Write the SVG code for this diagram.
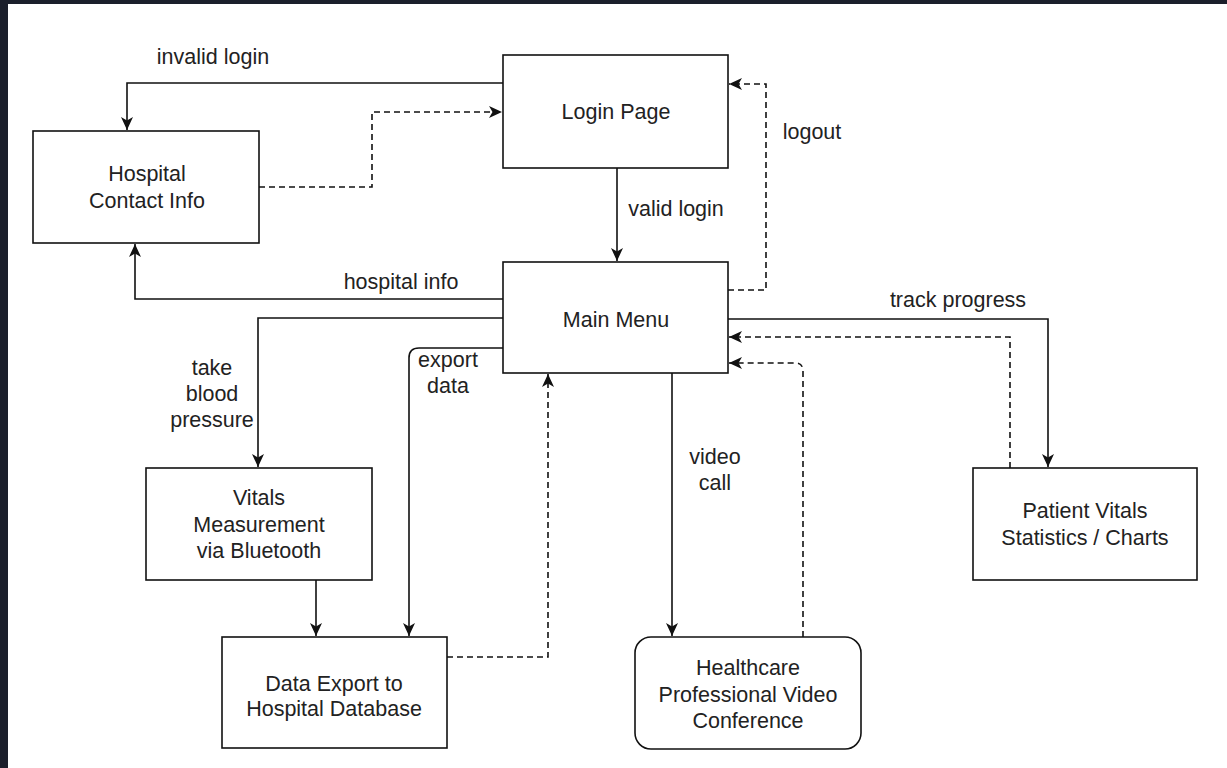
<svg xmlns="http://www.w3.org/2000/svg" width="1227" height="768" viewBox="0 0 1227 768">
<style>
.box{fill:#fff;stroke:#111;stroke-width:1.6}
.t{font-family:"Liberation Sans",Arial,sans-serif;font-size:21.5px;fill:#222;text-anchor:middle}
.c{fill:none;stroke:#111;stroke-width:1.6}
.d{fill:none;stroke:#111;stroke-width:1.6;stroke-dasharray:6 4}
</style>
<defs>
<marker id="ah" markerUnits="userSpaceOnUse" markerWidth="14" markerHeight="12" viewBox="0 0 14 12" refX="13" refY="6" orient="auto">
<path d="M0,0 L13,6 L0,12 L3.5,6 z" fill="#111"/>
</marker>
</defs>
<rect x="0" y="0" width="1227" height="768" fill="#1b1f2b"/>
<rect x="8" y="4" width="1219" height="764" fill="#fff"/>
<g id="connectors">
<path class="c" d="M503,83 H127 V130" marker-end="url(#ah)"/>
<path class="d" d="M259,187 H372 V112 H502" marker-end="url(#ah)"/>
<path class="c" d="M617,168 V261" marker-end="url(#ah)"/>
<path class="d" d="M728,290 H766 V84 H729" marker-end="url(#ah)"/>
<path class="c" d="M503,299 H135 V244" marker-end="url(#ah)"/>
<path class="c" d="M503,318 H258 V467" marker-end="url(#ah)"/>
<path class="c" d="M316,580 V636" marker-end="url(#ah)"/>
<path class="c" d="M503,348 H419 Q409,348 409,358 V636" marker-end="url(#ah)"/>
<path class="d" d="M447,657 H548 V374" marker-end="url(#ah)"/>
<path class="c" d="M672,373 V636" marker-end="url(#ah)"/>
<path class="d" d="M803,637 V371 Q803,363 795,363 H729" marker-end="url(#ah)"/>
<path class="c" d="M728,319 H1048 V467" marker-end="url(#ah)"/>
<path class="d" d="M1010,468 V337 H729" marker-end="url(#ah)"/>
<text class="t" x="213" y="64">invalid login</text>
<text class="t" x="676" y="216">valid login</text>
<text class="t" x="812" y="139">logout</text>
<text class="t" x="401" y="289">hospital info</text>
<text class="t" x="958" y="307">track progress</text>
<text class="t" x="212" y="375">take</text>
<text class="t" x="212" y="401">blood</text>
<text class="t" x="212" y="427">pressure</text>
<text class="t" x="448" y="367">export</text>
<text class="t" x="448" y="393">data</text>
<text class="t" x="715" y="464">video</text>
<text class="t" x="715" y="490">call</text>
</g>
<g id="login">
<rect class="box" x="503" y="55" width="225" height="113"/>
<text class="t" x="616" y="119">Login Page</text>
</g>
<g id="hospital">
<rect class="box" x="33" y="131" width="226" height="112"/>
<text class="t" x="147" y="181">Hospital</text>
<text class="t" x="147" y="208">Contact Info</text>
</g>
<g id="mainmenu">
<rect class="box" x="503" y="262" width="225" height="111"/>
<text class="t" x="616" y="327">Main Menu</text>
</g>
<g id="vitals">
<rect class="box" x="146" y="468" width="226" height="112"/>
<text class="t" x="259" y="505">Vitals</text>
<text class="t" x="259" y="532">Measurement</text>
<text class="t" x="259" y="558">via Bluetooth</text>
</g>
<g id="export">
<rect class="box" x="222" y="637" width="225" height="111"/>
<text class="t" x="334" y="691">Data Export to</text>
<text class="t" x="334" y="716">Hospital Database</text>
</g>
<g id="video">
<rect class="box" x="635" y="637" width="226" height="112" rx="16" ry="16"/>
<text class="t" x="748" y="675">Healthcare</text>
<text class="t" x="748" y="702">Professional Video</text>
<text class="t" x="748" y="728">Conference</text>
</g>
<g id="patient">
<rect class="box" x="973" y="468" width="224" height="112"/>
<text class="t" x="1085" y="518">Patient Vitals</text>
<text class="t" x="1085" y="545">Statistics / Charts</text>
</g>
</svg>
